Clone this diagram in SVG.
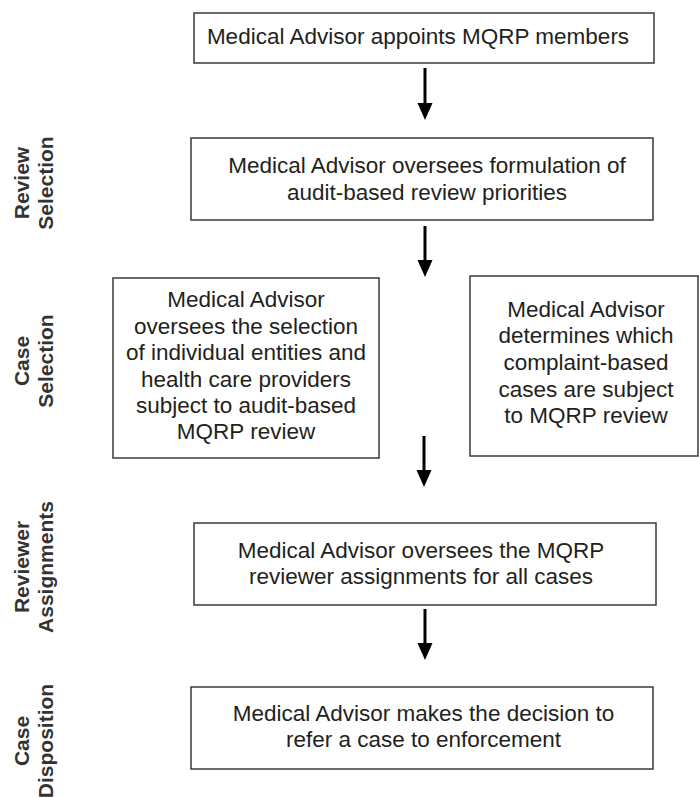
<svg xmlns="http://www.w3.org/2000/svg" width="699" height="798" viewBox="0 0 699 798">
<defs>
<style>
.box{fill:#fff;stroke:#3a3a3a;stroke-width:1.5}
.t{font-family:"Liberation Sans",Arial,sans-serif;font-size:22.5px;fill:#231f20;text-anchor:middle}
.lab{font-family:"Liberation Sans",Arial,sans-serif;font-size:21px;font-weight:bold;fill:#333;text-anchor:middle}
.sh{stroke:#000;stroke-width:3;fill:none}
.hd{fill:#000}
</style>
</defs>
<rect width="699" height="798" fill="#fff"/>
<g id="labels">
<text class="lab" transform="translate(29,183) rotate(-90)">Review</text>
<text class="lab" transform="translate(53,183) rotate(-90)">Selection</text>
<text class="lab" transform="translate(29,361) rotate(-90)">Case</text>
<text class="lab" transform="translate(53,361) rotate(-90)">Selection</text>
<text class="lab" transform="translate(29,567) rotate(-90)">Reviewer</text>
<text class="lab" transform="translate(53,567) rotate(-90)">Assignments</text>
<text class="lab" transform="translate(29,741) rotate(-90)">Case</text>
<text class="lab" transform="translate(53,741) rotate(-90)">Disposition</text>
</g>
<g id="n1">
<rect class="box" x="194" y="13" width="460" height="50"/>
<text class="t" x="418" y="44">Medical Advisor appoints MQRP members</text>
</g>
<g id="n2">
<rect class="box" x="191" y="138" width="462" height="82"/>
<text class="t" x="427" y="173">Medical Advisor oversees formulation of</text>
<text class="t" x="427" y="200">audit-based review priorities</text>
</g>
<g id="n3">
<rect class="box" x="113" y="278" width="266" height="180"/>
<text class="t" x="246" y="307">Medical Advisor</text>
<text class="t" x="246" y="334">oversees the selection</text>
<text class="t" x="246" y="360">of individual entities and</text>
<text class="t" x="246" y="387">health care providers</text>
<text class="t" x="246" y="413">subject to audit-based</text>
<text class="t" x="246" y="439">MQRP review</text>
</g>
<g id="n4">
<rect class="box" x="470" y="276" width="228" height="180"/>
<text class="t" x="586" y="317">Medical Advisor</text>
<text class="t" x="586" y="343">determines which</text>
<text class="t" x="586" y="370">complaint-based</text>
<text class="t" x="586" y="397">cases are subject</text>
<text class="t" x="586" y="423">to MQRP review</text>
</g>
<g id="n5">
<rect class="box" x="194" y="523" width="462" height="82"/>
<text class="t" x="421" y="558">Medical Advisor oversees the MQRP</text>
<text class="t" x="421" y="584">reviewer assignments for all cases</text>
</g>
<g id="n6">
<rect class="box" x="191" y="687" width="462" height="82"/>
<text class="t" x="423.5" y="721">Medical Advisor makes the decision to</text>
<text class="t" x="423.5" y="747">refer a case to enforcement</text>
</g>
<g id="connectors">
<line class="sh" x1="425" y1="68" x2="425" y2="104"/>
<polygon class="hd" points="417.5,103 432.5,103 425,120"/>
<line class="sh" x1="425" y1="226" x2="425" y2="261"/>
<polygon class="hd" points="417.5,260 432.5,260 425,277"/>
<line class="sh" x1="424" y1="436" x2="424" y2="471"/>
<polygon class="hd" points="416.5,470 431.5,470 424,487"/>
<line class="sh" x1="425" y1="609" x2="425" y2="644"/>
<polygon class="hd" points="417.5,643 432.5,643 425,660"/>
</g>
</svg>
